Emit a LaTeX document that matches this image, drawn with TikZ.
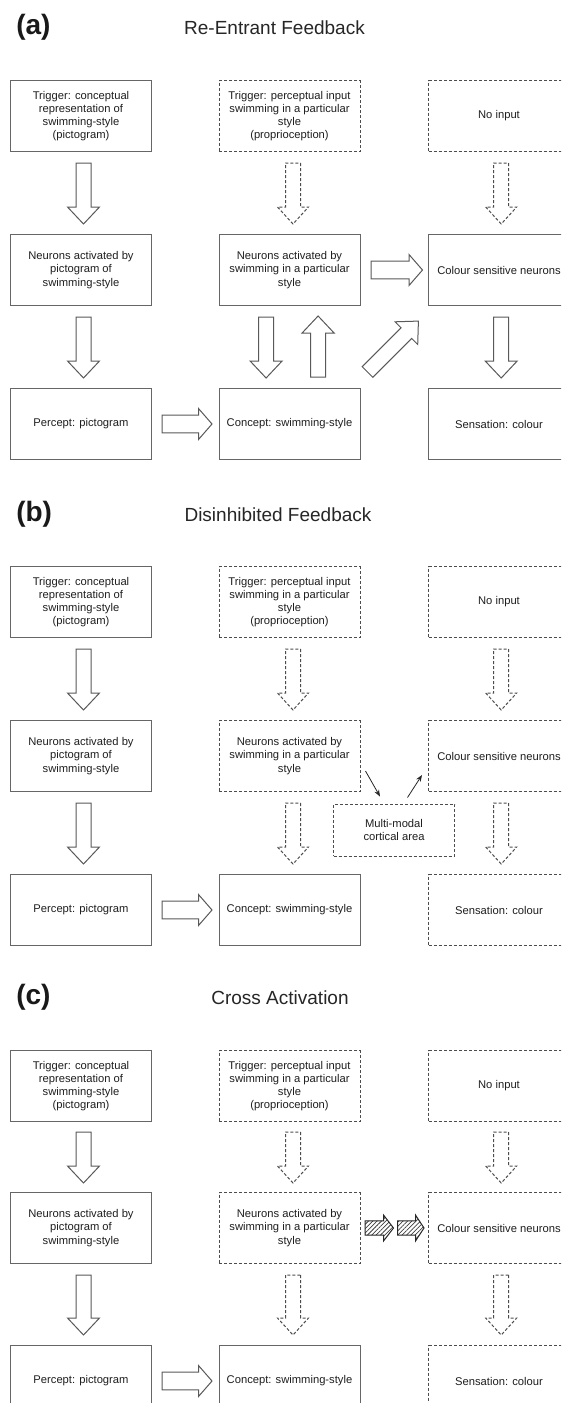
\documentclass[tikz,border=0pt]{standalone}
\usepackage{fontspec}
\setmainfont{Liberation Sans}
\usetikzlibrary{calc,arrows.meta,patterns.meta}
\newcommand\bodyfont{\fontsize{8.4pt}{9.9pt}\selectfont}
\newcommand\titfont{\fontsize{14.25pt}{17pt}\selectfont}
\newcommand\labfont{\bfseries\fontsize{21pt}{25pt}\selectfont}
% #1 style, #2 tail point, #3 angle, #4 length, #5 shaft half width, #6 head half width, #7 head length
\newcommand\blockarrow[7]{%
  \begin{scope}[shift={#2},rotate=#3]
    \draw[#1] (0,-#5) -- ({#4-#7},-#5) -- ({#4-#7},-#6) -- (#4,0) -- ({#4-#7},#6) -- ({#4-#7},#5) -- (0,#5) -- cycle;
  \end{scope}}
\tikzset{
  box/.style={draw=black!60, line width=0.75pt, minimum width=105.75pt, minimum height=53.25pt,
    inner sep=0pt, align=center, font=\bodyfont, text=black!88, anchor=north west},
  dbox/.style={box, draw=black!70, dash pattern=on 2.25pt off 1.5pt},
  sarr/.style={draw=black!65, line width=0.75pt, fill=white},
  darr/.style={sarr, draw=black!70, dash pattern=on 2.25pt off 1.5pt},
  harr/.style={draw=black!85, line width=0.75pt, pattern={Lines[angle=45,distance=2.3pt,line width=0.55pt]}, pattern color=black!75},
  thinarr/.style={draw=black!85, line width=0.6pt, -{Stealth[length=5pt,width=3.8pt]}},
  panellab/.style={anchor=base west, inner sep=0pt, font=\labfont, text=black!90},
  paneltit/.style={anchor=base, inner sep=0pt, font=\titfont, text=black!85},
}
\begin{document}
\begin{tikzpicture}[x=0.75pt,y=-0.75pt]
\useasboundingbox (0,0) rectangle (561,1403);
\clip (0,0) rectangle (561,1403);
\fill[white] (0,0) rectangle (561,1403);

% ================= (a) =================
\node[panellab] (alab) at (16,34.5) {(a)};
\node[paneltit] (atit) at (274.5,34.5) {Re-Entrant Feedback};
\node[box]  (a1l) at (10,80)    {Trigger: conceptual\\representation of\\swimming-style\\(pictogram)};
\node[dbox] (a1m) at (218.5,80) {Trigger: perceptual input\\swimming in a particular\\style\\(proprioception)};
\node[dbox] (a1r) at (428,80)   {No input};
\node[box]  (a2l) at (10,234)    {Neurons activated by\\pictogram of\\swimming-style};
\node[box]  (a2m) at (218.5,234) {Neurons activated by\\swimming in a particular\\style};
\node[box]  (a2r) at (428,234)   {Colour sensitive neurons};
\node[box]  (a3l) at (10,388)    {Percept: pictogram};
\node[box]  (a3m) at (218.5,388) {Concept: swimming-style};
\node[box]  (a3r) at (428,388)   {Sensation: colour};
\blockarrow{sarr}{($(a1l.south)+(2.5,11)$)}{-90}{61}{7.5}{16}{17}
\blockarrow{darr}{($(a1m.south)+(3.5,11)$)}{-90}{61}{7.5}{15.5}{17}
\blockarrow{darr}{($(a1r.south)+(2.2,11)$)}{-90}{61}{7.5}{15.5}{17}
\blockarrow{sarr}{($(a2l.south)+(2.5,11)$)}{-90}{61}{7.5}{16}{17}
\blockarrow{sarr}{($(a2m.south)+(-23.4,11)$)}{-90}{61}{7.5}{16}{17}
\blockarrow{sarr}{($(a3m.north)+(28.6,-11)$)}{90}{61}{7.5}{16}{17}
\blockarrow{sarr}{($(a2r.south)+(2.2,11)$)}{-90}{61}{7.5}{16}{17}
\blockarrow{sarr}{($(a2m.east)+(10.5,0)$)}{0}{51.5}{8.8}{15.5}{13.5}
\blockarrow{sarr}{($(a3l.east)+(10,0)$)}{0}{50}{8.8}{15.5}{13.5}
\blockarrow{sarr}{($(a3m.north)+(78,-16)$)}{45}{72}{7.5}{16}{17}

% ================= (b) =================
\node[panellab] (blab) at (16,521) {(b)};
\node[paneltit] (btit) at (278,521) {Disinhibited Feedback};
\node[box]  (b1l) at (10,566)    {Trigger: conceptual\\representation of\\swimming-style\\(pictogram)};
\node[dbox] (b1m) at (218.5,566) {Trigger: perceptual input\\swimming in a particular\\style\\(proprioception)};
\node[dbox] (b1r) at (428,566)   {No input};
\node[box]  (b2l) at (10,720)    {Neurons activated by\\pictogram of\\swimming-style};
\node[dbox] (b2m) at (218.5,720) {Neurons activated by\\swimming in a particular\\style};
\node[dbox] (b2r) at (428,720)   {Colour sensitive neurons};
\node[box]  (b3l) at (10,874)    {Percept: pictogram};
\node[box]  (b3m) at (218.5,874) {Concept: swimming-style};
\node[dbox] (b3r) at (428,874)   {Sensation: colour};
\node[dbox, anchor=center, minimum width=90.75pt, minimum height=39pt] (bmm) at (394,830) {Multi-modal\\cortical area};
\blockarrow{sarr}{($(b1l.south)+(2.5,11)$)}{-90}{61}{7.5}{16}{17}
\blockarrow{darr}{($(b1m.south)+(3.5,11)$)}{-90}{61}{7.5}{15.5}{17}
\blockarrow{darr}{($(b1r.south)+(2.2,11)$)}{-90}{61}{7.5}{15.5}{17}
\blockarrow{sarr}{($(b2l.south)+(2.5,11)$)}{-90}{61}{7.5}{16}{17}
\blockarrow{darr}{($(b2m.south)+(3.5,11)$)}{-90}{61}{7.5}{15.5}{17}
\blockarrow{darr}{($(b2r.south)+(2.2,11)$)}{-90}{61}{7.5}{15.5}{17}
\blockarrow{sarr}{($(b3l.east)+(10,0)$)}{0}{50}{8.8}{15.5}{13.5}
\draw[thinarr] ($(b2m.south east)+(5,-21)$) -- ($(bmm.north)+(-14,-7)$);
\draw[thinarr] ($(bmm.north)+(13.5,-6)$) -- ($(b2r.south west)+(-6,-17)$);

% ================= (c) =================
\node[panellab] (clab) at (16,1004) {(c)};
\node[paneltit] (ctit) at (280,1004) {Cross Activation};
\node[box]  (c1l) at (10,1050)    {Trigger: conceptual\\representation of\\swimming-style\\(pictogram)};
\node[dbox] (c1m) at (218.5,1050) {Trigger: perceptual input\\swimming in a particular\\style\\(proprioception)};
\node[dbox] (c1r) at (428,1050)   {No input};
\node[box]  (c2l) at (10,1192)    {Neurons activated by\\pictogram of\\swimming-style};
\node[dbox] (c2m) at (218.5,1192) {Neurons activated by\\swimming in a particular\\style};
\node[dbox] (c2r) at (428,1192)   {Colour sensitive neurons};
\node[box]  (c3l) at (10,1345)    {Percept: pictogram};
\node[box]  (c3m) at (218.5,1345) {Concept: swimming-style};
\node[dbox] (c3r) at (428,1345)   {Sensation: colour};
\blockarrow{sarr}{($(c1l.south)+(2.5,10)$)}{-90}{51}{7.5}{16}{17}
\blockarrow{darr}{($(c1m.south)+(3.5,10)$)}{-90}{51}{7.5}{15.5}{17}
\blockarrow{darr}{($(c1r.south)+(2.2,10)$)}{-90}{51}{7.5}{15.5}{17}
\blockarrow{sarr}{($(c2l.south)+(2.5,11)$)}{-90}{60}{7.5}{16}{17}
\blockarrow{darr}{($(c2m.south)+(3.5,11)$)}{-90}{60}{7.5}{15.5}{17}
\blockarrow{darr}{($(c2r.south)+(2.2,11)$)}{-90}{60}{7.5}{15.5}{17}
\blockarrow{sarr}{($(c3l.east)+(10,0)$)}{0}{50}{8.8}{15.5}{13.5}
\blockarrow{harr}{($(c2m.east)+(4.5,0)$)}{0}{28.5}{7.2}{13}{10}
\blockarrow{harr}{($(c2m.east)+(37,0)$)}{0}{26.5}{7.2}{13}{8.5}
\end{tikzpicture}
\end{document}
